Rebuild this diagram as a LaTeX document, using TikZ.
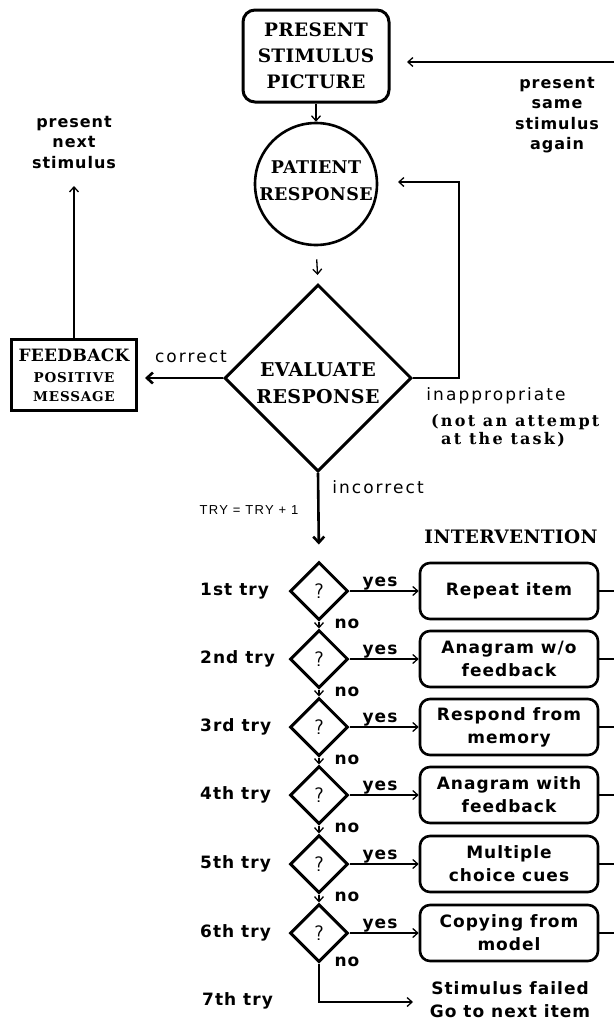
\documentclass[tikz,border=0pt]{standalone}
\usepackage{fontspec}
\setmainfont{DejaVu Serif}
\newfontfamily\lon{DejaVu Serif}[LetterSpace=2]
\newfontfamily\lonw{DejaVu Serif}[LetterSpace=6]
\newfontfamily\lonx{DejaVu Serif}[LetterSpace=14]
\newfontfamily\chic{DejaVu Sans}[LetterSpace=6]
\newfontfamily\gen{DejaVu Sans}[LetterSpace=12]
\newfontfamily\thin{Liberation Sans}[LetterSpace=10]
\usetikzlibrary{shapes.geometric,arrows.meta}
\begin{document}
\begin{tikzpicture}[x=1pt,y=-1pt,
  arr/.style={-{Straight Barb[length=5pt,width=9pt]}, line width=1.3pt},
  thickarr/.style={-{Straight Barb[length=6pt,width=11pt]}, line width=2.6pt},
  ln/.style={line width=1.3pt},
  bigtxt/.style={font={\lon\bfseries\fontsize{18.5}{26}\selectfont}, align=center, inner sep=0},
  chictxt/.style={font={\chic\bfseries\fontsize{17}{23}\selectfont}, align=center, inner sep=0},
  gentxt/.style={font={\gen\fontsize{17}{20}\selectfont}, align=center, inner sep=0},
  ibox/.style={draw, line width=2.6pt, rounded corners=10pt, minimum width=178pt, minimum height=56pt, inner sep=0},
  qd/.style={diamond, draw, line width=3pt, minimum width=58pt, minimum height=58pt, inner sep=0, font={\sffamily\fontsize{21}{21}\selectfont}}
]
\useasboundingbox (0,0) rectangle (614,1023);
\fill[white] (0,0) rectangle (614,1023);

% top part
\node[draw, line width=3pt, rounded corners=12pt, minimum width=146pt, minimum height=92pt, bigtxt] (pres) at (316,56) {PRESENT\\STIMULUS\\PICTURE};
\node[circle, draw, line width=2.6pt, minimum size=122pt, inner sep=0] (pr) at (316,184) {};
\node[bigtxt, font={\lon\bfseries\fontsize{17.5}{27}\selectfont}] (prt) at (316,181) {PATIENT\\RESPONSE};
\node[diamond, draw, line width=3pt, minimum width=187pt, minimum height=187pt, inner sep=0] (ev) at (318,378) {};
\node[bigtxt, font={\lon\bfseries\fontsize{19}{27}\selectfont}] (evt) at (318,383) {EVALUATE\\RESPONSE};

\node[draw, line width=3pt, minimum width=125pt, minimum height=71pt, inner sep=0] (fb) at (74,375) {};
\node[bigtxt, font={\lon\bfseries\fontsize{17}{20}\selectfont}] (fbt) at (74,355) {FEEDBACK};
\node[inner sep=0, align=center, font={\lonw\bfseries\fontsize{13.5}{19}\selectfont}] (fbt2) at (74,387) {POSITIVE\\MESSAGE};

\node[chictxt, font={\chic\bfseries\fontsize{16}{20.5}\selectfont}] (pns) at (74,142) {present\\next\\stimulus};
\coordinate (ptop) at (74,186);
\draw[arr] (fb.north) -- (ptop);

\node[chictxt, font={\chic\bfseries\fontsize{16}{20.5}\selectfont}] (pssa) at (557,115) {present\\same\\stimulus\\again};
\coordinate (rtop) at (614,62);
\coordinate (prestip) at (407,62);
\draw[arr] (rtop) -- (prestip);

\draw[arr] (pres.south) -- (pr.north);
\draw[arr, shorten <=13pt, shorten >=8pt] (pr.south) -- (ev.north);

% correct
\coordinate (ctip) at (145,378);
\draw[thickarr] (ev.west) -- (ctip);
\node[gentxt] (cor) at (191,357) {correct};

% inappropriate loop
\coordinate (rl1) at (459,378);
\coordinate (rl2) at (459,182);
\coordinate (prin) at (398,182);
\draw[arr] (ev.east) -- (rl1) -- (rl2) -- (prin);
\node[gentxt] (inap) at (496,396) {inappropriate};
\node[inner sep=0, align=left, anchor=west, font={\lonx\bfseries\fontsize{16}{18}\selectfont}] (nat) at (431,431) {(not an attempt\\\hspace*{10pt}at the task)};

% incorrect
\node[gentxt] (inc) at (378,487) {incorrect};
\node[inner sep=0, font={\thin\fontsize{13}{13}\selectfont}] (try) at (249,510) {TRY = TRY + 1};
\node[bigtxt, font={\lon\bfseries\fontsize{18.5}{20}\selectfont}] (intv) at (511,537) {INTERVENTION};

% tries
\node[qd] (q1) at (319,591) {?};
\node[qd] (q2) at (319,659) {?};
\node[qd] (q3) at (319,727) {?};
\node[qd] (q4) at (319,795) {?};
\node[qd] (q5) at (319,864) {?};
\node[qd] (q6) at (319,933) {?};

\draw[line width=2.6pt, -{Straight Barb[length=6pt,width=11pt]}, shorten >=16pt] (ev.south) -- (q1.north);

\node[ibox, chictxt] (b1) at (509,591) {Repeat item};
\node[ibox, chictxt] (b2) at (509,659) {Anagram w/o\\feedback};
\node[ibox, chictxt] (b3) at (509,727) {Respond from\\memory};
\node[ibox, chictxt] (b4) at (509,795) {Anagram with\\feedback};
\node[ibox, chictxt] (b5) at (509,864) {Multiple\\choice cues};
\node[ibox, chictxt] (b6) at (509,933) {Copying from\\model};

\foreach \i/\r/\t in {1/591/1st, 2/659/2nd, 3/727/3rd, 4/795/4th, 5/864/5th, 6/933/6th}{
  \node[chictxt, anchor=west] (t\i) at (200,\r) {\t\ try};
  \draw[arr] (q\i.east) -- (b\i.west);
  \node[chictxt, anchor=base] (y\i) at (380,\r-5) {yes};
  \coordinate (r\i) at (614,\r);
  \draw[ln] (b\i.east) -- (r\i);
}
\foreach \i/\j/\r in {1/2/591, 2/3/659, 3/4/727, 4/5/795, 5/6/864}{
  \draw[arr] (q\i.south) -- (q\j.north);
  \node[chictxt] (n\i) at (347,\r+33) {no};
}
\node[chictxt] (n6) at (347,962) {no};
\node[chictxt, anchor=west] (t7) at (202,1001) {7th try};
\coordinate (c7) at (319,1002);
\coordinate (c7e) at (413,1002);
\draw[arr] (q6.south) -- (c7) -- (c7e);
\node[chictxt] (sf) at (510,1000) {Stimulus failed\\Go to next item};
\end{tikzpicture}
\end{document}
